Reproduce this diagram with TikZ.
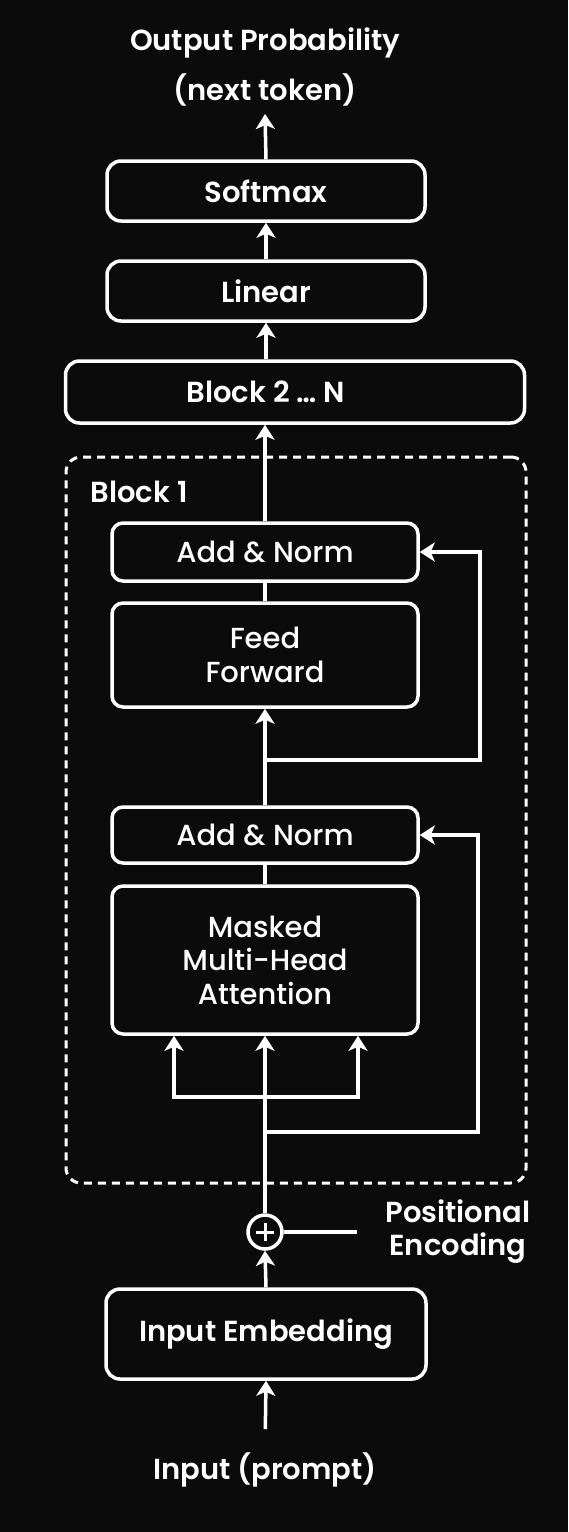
\documentclass[tikz,border=0pt]{standalone}
\usepackage{fontspec}
\setmainfont{Poppins}
\IfFontExistsTF{Poppins SemiBold}{\newfontfamily\semibd{Poppins SemiBold}}{\newfontfamily\semibd{Poppins}[UprightFont=*-Bold]}
\IfFontExistsTF{Poppins Medium}{\newfontfamily\medium{Poppins Medium}}{\newfontfamily\medium{Poppins}}
\usepackage{tikz}
\usetikzlibrary{arrows.meta}
\definecolor{bgcol}{HTML}{0B0B0B}
\tikzstyle{arrow} = [line width=3.5pt,-{Stealth[length=15pt,width=19pt,inset=4pt]}]

\begin{document}
\begin{tikzpicture}[x=1pt, y=-1pt, line width=3.5pt, draw=white,
stagebox/.style={draw=white, line width=3.5pt, rounded corners=14pt, text=white, inner sep=0pt, align=center, font=\fontsize{29}{33}\semibd},
layerbox/.style={draw=white, line width=3.5pt, rounded corners=11pt, text=white, inner sep=0pt, align=center, minimum width=306, font=\fontsize{29}{33.5}\medium},
toptxt/.style={text=white, align=center, font=\fontsize{29}{50}\semibd},
sidetxt/.style={text=white, align=center, font=\fontsize{29}{33}\semibd},
groupbox/.style={draw=white, line width=3pt, dash pattern=on 8pt off 6pt, rounded corners=15pt},]
% background and page size
\fill[bgcol] (0,0) rectangle (568,1532);
\useasboundingbox (0,0) rectangle (568,1532);
% output side
\node[toptxt, inner sep=6pt](output) at (265,67) {Output Probability\\(next token)};
\node[stagebox, minimum width=318, minimum height=60](softmax) at (266,191) {Softmax};
\node[stagebox, minimum width=318, minimum height=60](linear) at (266,291) {Linear};
\node[stagebox, minimum width=459, minimum height=62, label={[text=white, font=\fontsize{29}{33}\semibd, xshift=-29pt]center:Block 2 \dots\ N}](blockn) at (295,392) {};
% block 1
\node[groupbox, minimum width=460, minimum height=726](block1) at (296,820) {};
\node[sidetxt, anchor=west, inner sep=0pt](block1txt) at (89,492) {Block 1};
\node[layerbox, minimum height=58](addnorm2) at (265,552) {Add \& Norm};
\node[layerbox, minimum height=104](ffn) at (265,655) {Feed\\Forward};
\node[layerbox, minimum height=56](addnorm1) at (265,835) {Add \& Norm};
\node[layerbox, minimum height=148](mmha) at (265,960) {Masked\\Multi-Head\\Attention};
% input side
\node[circle, draw=white, line width=3.5pt, minimum size=34, inner sep=0pt](plus) at (265,1232) {};
\draw[line width=3pt] ([yshift=-9pt]plus.center) -- ([yshift=9pt]plus.center);
\draw[line width=3pt] ([xshift=-9pt]plus.center) -- ([xshift=9pt]plus.center);
\node[sidetxt](posenc) at (458,1232) {Positional\\Encoding};
\coordinate (pein) at (357,1232);
\node[stagebox, minimum width=320, minimum height=90](embed) at (266,1334) {Input Embedding};
\node[sidetxt, inner sep=0pt](input) at (265,1470) {Input (prompt)};
% connectors
\draw[arrow] (softmax.north) -- (output.south);
\draw[arrow] (linear.north) -- (softmax.south);
\draw[arrow] (linear.south |- blockn.north) -- (linear.south);
\draw[arrow] (addnorm2.north) -- (addnorm2.north |- blockn.south);
\draw (addnorm2.south) -- (ffn.north);
\draw[arrow] (addnorm1.north) -- (ffn.south);
\coordinate (res2) at (265,760);
\draw[arrow] (res2) -- ++(215,0) |- (addnorm2.east);
\draw (addnorm1.south) -- (mmha.north);
\draw[arrow] (plus.north) -- (mmha.south);
\coordinate (split) at (265,1097);
\draw[arrow] (split) -| ([xshift=-91pt]mmha.south);
\draw[arrow] (split) -| ([xshift=93pt]mmha.south);
\coordinate (res1) at (265,1132);
\draw[arrow] (res1) -- ++(213,0) |- (addnorm1.east);
\draw (plus.east) -- (pein);
\draw[arrow] (embed.north) -- (plus.south);
\draw[arrow, shorten <=22pt] (input.north) -- (embed.south);
\end{tikzpicture}
\end{document}
